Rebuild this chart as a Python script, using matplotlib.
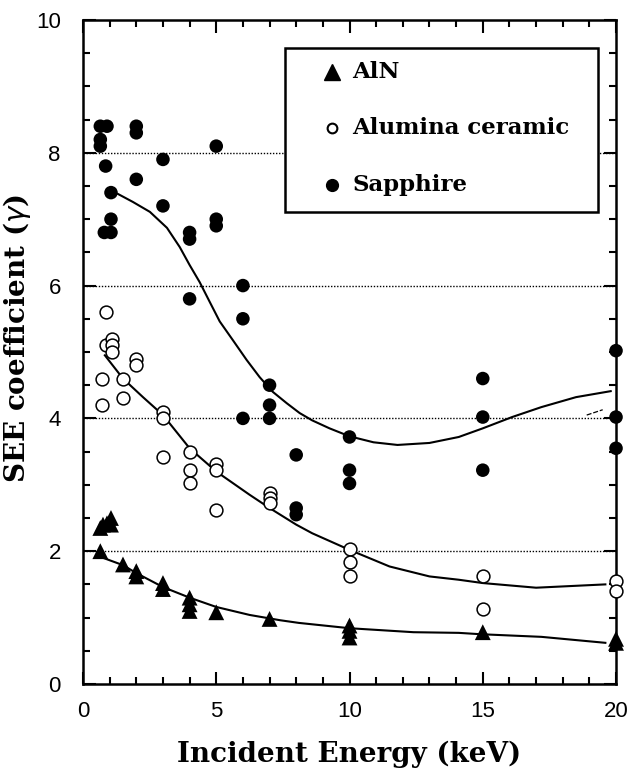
import matplotlib
matplotlib.use("Agg")
import matplotlib.pyplot as plt
from matplotlib.ticker import MultipleLocator
from matplotlib.patches import Rectangle

# ---------------- data ----------------
sapphire_x = [0.65, 0.9, 0.65, 0.65, 0.85, 1.05, 1.05, 0.8, 1.05, 2.0, 2.0, 2.0,
              3.0, 3.0, 4.0, 4.0, 4.0, 5.0, 5.0, 5.0, 6.0, 6.0, 6.0, 7.0, 7.0, 7.0,
              8.0, 8.0, 8.0, 10, 10, 10, 15, 15, 15, 20, 20, 20]
sapphire_y = [8.4, 8.4, 8.2, 8.1, 7.8, 7.4, 7.0, 6.8, 6.8, 8.4, 8.3, 7.6,
              7.9, 7.2, 6.8, 6.7, 5.8, 8.1, 7.0, 6.9, 6.0, 5.5, 4.0, 4.5, 4.2, 4.0,
              3.45, 2.65, 2.55, 3.72, 3.22, 3.02, 4.6, 4.02, 3.22, 5.02, 4.02, 3.55]

alumina_x = [0.7, 0.7, 0.85, 0.85, 1.1, 1.1, 1.1, 1.5, 1.5, 2.0, 2.0, 3.0, 3.0, 3.0,
             4.0, 4.0, 4.0, 5.0, 5.0, 5.0, 7.0, 7.0, 7.0, 10, 10, 10, 15, 15, 20, 20]
alumina_y = [4.6, 4.2, 5.6, 5.1, 5.2, 5.1, 5.0, 4.6, 4.3, 4.9, 4.8, 4.1, 4.0, 3.42,
             3.5, 3.22, 3.02, 3.32, 3.22, 2.62, 2.88, 2.8, 2.72, 2.03, 1.83, 1.62,
             1.63, 1.13, 1.55, 1.4]

aln_x = [0.65, 0.75, 0.9, 1.05, 1.05, 0.65, 1.5, 2.0, 2.0, 3.0, 3.0, 4.0, 4.0, 4.0,
         5.0, 7.0, 10, 10, 10, 15, 20, 20]
aln_y = [2.35, 2.4, 2.42, 2.5, 2.4, 2.0, 1.8, 1.7, 1.62, 1.52, 1.43, 1.3, 1.2, 1.1,
         1.08, 0.98, 0.88, 0.8, 0.7, 0.78, 0.68, 0.62]

# fitted curves
sap_fit_x = [1.31, 1.87, 2.51, 3.15, 3.63, 4.0, 4.38, 4.76, 5.13, 5.62, 6.14, 6.63,
             7.12, 7.64, 8.13, 8.6, 9.25, 10.0, 10.9, 11.8, 13.0, 14.1, 15.0, 16.1,
             17.2, 18.5, 19.8]
sap_fit_y = [7.38, 7.26, 7.11, 6.87, 6.58, 6.31, 6.05, 5.75, 5.46, 5.18, 4.88, 4.62,
             4.4, 4.23, 4.08, 3.97, 3.85, 3.73, 3.64, 3.6, 3.63, 3.72, 3.85, 4.02,
             4.17, 4.32, 4.41]

alu_fit_x = [0.82, 1.5, 2.25, 3.0, 4.0, 5.0, 6.25, 7.0, 8.0, 8.6, 10.0, 11.5, 13.0,
             14.1, 15.0, 17.0, 19.6]
alu_fit_y = [4.95, 4.6, 4.32, 4.05, 3.55, 3.2, 2.85, 2.65, 2.4, 2.27, 2.02, 1.77, 1.62,
             1.57, 1.52, 1.45, 1.5]

aln_fit_x = [0.75, 1.5, 2.0, 3.0, 4.0, 5.0, 6.25, 7.4, 8.1, 10.0, 12.4, 14.1, 14.9,
             17.2, 19.6]
aln_fit_y = [1.9, 1.79, 1.67, 1.46, 1.3, 1.16, 1.04, 0.96, 0.92, 0.84, 0.78, 0.77, 0.75,
             0.71, 0.62]

artifact_x = [18.9, 19.5]
artifact_y = [4.05, 4.13]

grid_levels = [2, 4, 6, 8]
x_ticks = [0, 5, 10, 15, 20]
y_ticks = [0, 2, 4, 6, 8, 10]
legend_labels = ["AlN", "Alumina ceramic", "Sapphire"]

# ---------------- figure ----------------
fig = plt.figure(figsize=(6.36, 7.77), dpi=100)
ax = fig.add_axes([0.1305, 0.1197, 0.8381, 0.8546])

ax.set_xlim(0, 20)
ax.set_ylim(0, 10)

for lvl in grid_levels:
    ax.axhline(lvl, color="black", lw=1.0, ls=(0, (1, 1.2)), zorder=1)

ax.plot(sap_fit_x, sap_fit_y, color="black", lw=1.5, zorder=2)
ax.plot(alu_fit_x, alu_fit_y, color="black", lw=1.5, zorder=2)
ax.plot(aln_fit_x, aln_fit_y, color="black", lw=1.5, zorder=2)
ax.plot(artifact_x, artifact_y, color="black", lw=0.9, ls=(0, (4, 1.5)), zorder=2)

ax.scatter(sapphire_x, sapphire_y, s=95, color="black", edgecolors="none", zorder=4,
           clip_on=False)
ax.scatter(alumina_x, alumina_y, s=85, facecolors="white", edgecolors="black",
           linewidths=1.1, zorder=4, clip_on=False)
ax.scatter(aln_x, aln_y, s=130, marker="^", color="black", edgecolors="none", zorder=4,
           clip_on=False)

# axes styling
for sp in ax.spines.values():
    sp.set_linewidth(1.8)
ax.set_xticks(x_ticks)
ax.set_yticks(y_ticks)
ax.xaxis.set_minor_locator(MultipleLocator(1))
ax.yaxis.set_minor_locator(MultipleLocator(0.5))
ax.tick_params(which="both", direction="in", top=True, right=True, width=1.5)
ax.tick_params(which="major", length=9)
ax.tick_params(which="minor", length=5)
ax.tick_params(axis="x", which="major", pad=12)
ax.tick_params(axis="y", which="major", pad=16)
for lab in ax.get_xticklabels() + ax.get_yticklabels():
    lab.set_fontfamily("Liberation Sans")
    lab.set_fontsize(16)

ax.set_xlabel("Incident Energy (keV)", fontfamily="DejaVu Serif", fontweight="bold",
              fontsize=20, labelpad=14)
ax.set_ylabel("SEE coefficient ($\\gamma$)", fontfamily="DejaVu Serif",
              fontweight="bold", fontsize=20)
ax.yaxis.set_label_coords(-0.094, 0.52)

# legend (box drawn in axes coordinates)
box = Rectangle((0.379, 0.711), 0.587, 0.247, transform=ax.transAxes,
                facecolor="white", edgecolor="black", lw=1.8, zorder=5)
ax.add_patch(box)
row_y = [0.9217, 0.837, 0.7515]
mx, tx = 0.467, 0.505
ax.plot([mx], [row_y[0]], marker="^", color="black", ms=11, ls="none",
        transform=ax.transAxes, zorder=6)
ax.plot([mx], [row_y[1]], marker="o", mfc="white", mec="black", mew=1.5, ms=7,
        ls="none", transform=ax.transAxes, zorder=6)
ax.plot([mx], [row_y[2]], marker="o", color="black", ms=8.5, ls="none",
        transform=ax.transAxes, zorder=6)
for yy, lab in zip(row_y, legend_labels):
    ax.text(tx, yy, lab, transform=ax.transAxes, ha="left", va="center",
            fontfamily="DejaVu Serif", fontweight="bold", fontsize=16.5, zorder=6)

fig.savefig("out.png", dpi=100)
